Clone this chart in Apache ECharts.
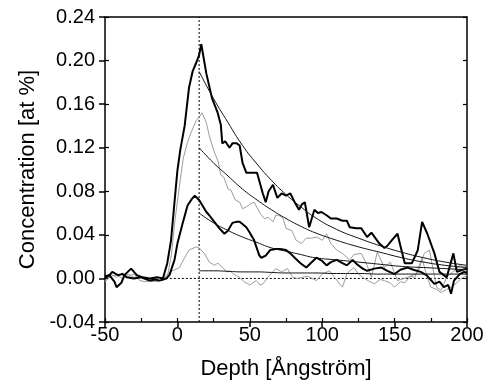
<!DOCTYPE html>
<html>
<head>
<meta charset="utf-8">
<script src="https://cdn.jsdelivr.net/npm/echarts@6/dist/echarts.min.js"></script>
<style>
html,body{margin:0;padding:0;background:#fff;}
#chart{width:490px;height:389px;}
</style>
</head>
<body>
<div id="chart"></div>
<script>
// ---- data ----
var depth1 = [-50,-47,-43.5,-42,-38.7,-36.6,-32,-28,-24,-19,-14,-10,-7,-4.4,-2,0,2,5,8,10.5,13,15,16.5,20,24,27.6,30,31,33,36,38,41,43,45,47.6,52,55,59,61,63,66,69,72,75,78,81,84,86,88,91,94.6,97,99.5,103,106,110,114,117,119,123.5,127,131,134,139.5,143,145,148,152,154,157,162,166,169,172.6,177.5,181,186,190.6,193,197,200];
var conc1 = [0,0.003,-0.003,-0.008,-0.004,0.003,0.009,0.003,0.001,0,0.001,0,0.014,0.035,0.07,0.099,0.118,0.14,0.175,0.19,0.198,0.205,0.215,0.188,0.165,0.153,0.141,0.124,0.126,0.12,0.124,0.124,0.122,0.106,0.097,0.097,0.097,0.078,0.07,0.08,0.086,0.074,0.078,0.076,0.078,0.07,0.063,0.068,0.07,0.047,0.063,0.06,0.061,0.058,0.055,0.055,0.053,0.053,0.047,0.046,0.046,0.038,0.042,0.032,0.028,0.03,0.035,0.041,0.03,0.014,0.014,0.026,0.052,0.041,0.023,0.006,0.001,0.023,0.006,0.008,0.009];

var depth2 = [-50,-46,-42,-38,-34,-30,-26,-22,-18,-14,-10,-7,-4,-2,1.4,4,7,9.5,13,15,17,20,22,25.5,28,30,32,35,37,40,43,45,48,50,53,57,60,63,66,68,70,73,75,79,82,85.6,89,92.5,96.7,100,103,106,110,114,119,122,127,131,134,138,143,147,152,159,166,170.5,174,179,182,186,191,195,198,200];
var conc2 = [-0.002,0.004,0.001,0.005,0.002,0.004,-0.002,-0.003,-0.002,-0.003,-0.001,0.001,0.023,0.05,0.085,0.11,0.125,0.134,0.145,0.148,0.152,0.143,0.131,0.116,0.108,0.095,0.093,0.082,0.081,0.072,0.07,0.064,0.066,0.068,0.07,0.06,0.055,0.056,0.052,0.058,0.058,0.055,0.046,0.044,0.035,0.032,0.037,0.037,0.038,0.035,0.041,0.032,0.026,0.023,0.017,0.022,0.023,0.012,0.001,0.024,0.01,0.015,-0.002,0.001,0.005,0.023,0.026,-0.008,-0.011,0.001,0.007,0.012,0.01,0.012];

var depth3 = [-50,-47,-45,-41,-38,-35,-30,-25,-19,-15,-12.4,-7.6,-5.5,-2,0,3.5,7,10,12,15,20,22,25.5,29,32.5,35,38,41,43,47.6,50,53,56.6,58,61,64,68,71,75,78,81,85,89,92,96,100,103,106,110,114,117,121,124,128,131,136,141,145,150,154,159,163,168,172,177.5,181,184,187,189,191,195,198,200];
var conc3 = [0.002,0.003,0.006,0.003,0.004,0.001,0,0.001,-0.002,-0.001,-0.002,0,0.003,0.017,0.032,0.05,0.067,0.073,0.076,0.072,0.061,0.058,0.052,0.046,0.041,0.044,0.051,0.052,0.052,0.047,0.042,0.035,0.021,0.019,0.021,0.026,0.027,0.027,0.026,0.023,0.019,0.014,0.01,0.014,0.019,0.016,0.012,0.015,0.017,0.014,0.012,0.017,0.013,0.009,0.007,0.009,0.01,0.007,0.004,0.008,0.01,0.008,0.006,0.003,-0.005,-0.003,-0.008,-0.006,-0.014,-0.002,0.004,0.006,0.005];

var depth4 = [-50,-46,-42,-38,-34,-30,-26,-22,-18,-14,-10,-7.6,-3.3,1.4,5,8,13,15,18.6,22,25.5,28,31,34.5,36,40,43,46,50,54.5,57,59,63,68,72,76,79.6,83,86,90,96,100,105,108,112,114,117,119,122,125,129,133,136,140,143,147,150,154,157,161,164,167,169,171,175,179,182,186,189,193,196,200];
var conc4 = [-0.003,0.002,0.003,0,0.004,0.001,0.002,-0.001,-0.003,-0.002,-0.002,0.003,0.007,0.01,0.019,0.026,0.029,0.028,0.023,0.015,0.012,0.014,0.01,0.006,0.007,0.003,0.001,-0.003,-0.006,-0.002,-0.006,-0.005,0.002,0.009,0.006,0.009,0.001,0,0.001,0.002,-0.002,0.004,0.007,0.002,-0.005,-0.008,0.004,0.007,0.01,0.004,0,-0.003,-0.005,-0.001,-0.002,-0.004,-0.008,-0.003,-0.004,0.002,0.001,0.012,0.019,0.008,-0.008,-0.01,-0.013,-0.01,-0.008,-0.004,0,0.003];

var fitDepth = [15,25,35,45,55,65,75,85,95,110,125,140,155,170,185,200];
var fit1 = [0.190,0.165,0.143,0.122,0.105,0.090,0.077,0.066,0.056,0.045,0.037,0.030,0.024,0.019,0.015,0.012];
var fit2 = [0.120,0.106,0.094,0.082,0.072,0.063,0.055,0.048,0.042,0.035,0.029,0.024,0.019,0.015,0.012,0.010];
var fit3 = [0.060,0.051,0.044,0.038,0.033,0.028,0.025,0.022,0.019,0.017,0.015,0.013,0.011,0.010,0.009,0.008];
var fit4 = [0.007,0.007,0.0065,0.006,0.006,0.0055,0.005,0.005,0.005,0.0045,0.0045,0.004,0.004,0.004,0.004,0.004];

var refDepth = 15;          // vertical dotted line
var zeroLineDepth = [-8, 200]; // horizontal dotted line at 0
var xTicks = {min: -50, max: 200, step: 50, minorStep: 25};
var yTicks = {min: -0.04, max: 0.24, step: 0.04};

// ---- build ----
function pairs(xs, ys){ return xs.map(function(x,i){ return [x, ys[i]]; }); }
var FONT = 'Liberation Sans, Arial, sans-serif';
var chart = echarts.init(document.getElementById('chart'), null, {renderer:'canvas'});

var axLine = {show:true, onZero:false, lineStyle:{color:'#000', width:1.5}};
var noLine = {show:false, onZero:false};
function baseX(extra){
  return Object.assign({type:'value', min:xTicks.min, max:xTicks.max, interval:xTicks.step,
    splitLine:{show:false}, axisLine:noLine, axisTick:{show:false}, axisLabel:{show:false}}, extra);
}
function baseY(extra){
  return Object.assign({type:'value', min:yTicks.min, max:yTicks.max, interval:yTicks.step,
    splitLine:{show:false}, axisLine:noLine, axisTick:{show:false}, axisLabel:{show:false}}, extra);
}

var option = {
  animation:false,
  backgroundColor:'#fff',
  grid:{left:105, right:23, top:17, bottom:67, containLabel:false},
  xAxis:[
    baseX({position:'bottom', axisLine:axLine,
      axisTick:{show:true, length:5, inside:false, lineStyle:{color:'#000', width:1.5}},
      axisLabel:{show:true, margin:3, color:'#000', fontSize:20, fontFamily:FONT},
      name:'Depth [Ångström]', nameLocation:'middle', nameGap:36,
      nameTextStyle:{color:'#000', fontSize:22, fontFamily:FONT}}),
    baseX({position:'bottom', interval:xTicks.minorStep,
      axisTick:{show:true, length:4, inside:true, lineStyle:{color:'#000', width:1.2}}}),
    baseX({position:'top', axisLine:axLine})
  ],
  yAxis:[
    baseY({position:'left', axisLine:axLine,
      axisTick:{show:true, length:6, inside:false, lineStyle:{color:'#000', width:1.5}},
      axisLabel:{show:true, margin:10, color:'#000', fontSize:20, fontFamily:FONT,
        formatter:function(v){ return Math.abs(v)<1e-9 ? '0.00' : v.toFixed(2); }},
      name:'Concentration [at %]', nameLocation:'middle', nameGap:64, nameRotate:90,
      nameTextStyle:{color:'#000', fontSize:22, fontFamily:FONT}}),
    baseY({position:'left',
      axisTick:{show:true, length:4, inside:true, lineStyle:{color:'#000', width:1.2}}}),
    baseY({position:'right', axisLine:axLine,
      axisTick:{show:true, length:4, inside:true, lineStyle:{color:'#000', width:1.2}}})
  ],
  series:[
    {type:'line', data:[[refDepth, yTicks.min],[refDepth, yTicks.max]], symbol:'none', silent:true,
      lineStyle:{color:'#000', width:1, type:[2,2]}},
    {type:'line', data:[[zeroLineDepth[0],0],[zeroLineDepth[1],0]], symbol:'none', silent:true,
      lineStyle:{color:'#000', width:1, type:[2,2]}},
    {type:'line', data:pairs(depth4, conc4), symbol:'none', lineStyle:{color:'#9c9c9c', width:1}},
    {type:'line', data:pairs(depth2, conc2), symbol:'none', lineStyle:{color:'#9c9c9c', width:1}},
    {type:'line', data:pairs(depth3, conc3), symbol:'none', lineStyle:{color:'#000', width:2}},
    {type:'line', data:pairs(depth1, conc1), symbol:'none', lineStyle:{color:'#000', width:2}},
    {type:'line', data:pairs(fitDepth, fit1), symbol:'none', smooth:true, lineStyle:{color:'#111', width:1}},
    {type:'line', data:pairs(fitDepth, fit2), symbol:'none', smooth:true, lineStyle:{color:'#111', width:1}},
    {type:'line', data:pairs(fitDepth, fit3), symbol:'none', smooth:true, lineStyle:{color:'#111', width:1}},
    {type:'line', data:pairs(fitDepth, fit4), symbol:'none', smooth:true, lineStyle:{color:'#111', width:1}}
  ]
};
chart.setOption(option);
</script>
</body>
</html>
